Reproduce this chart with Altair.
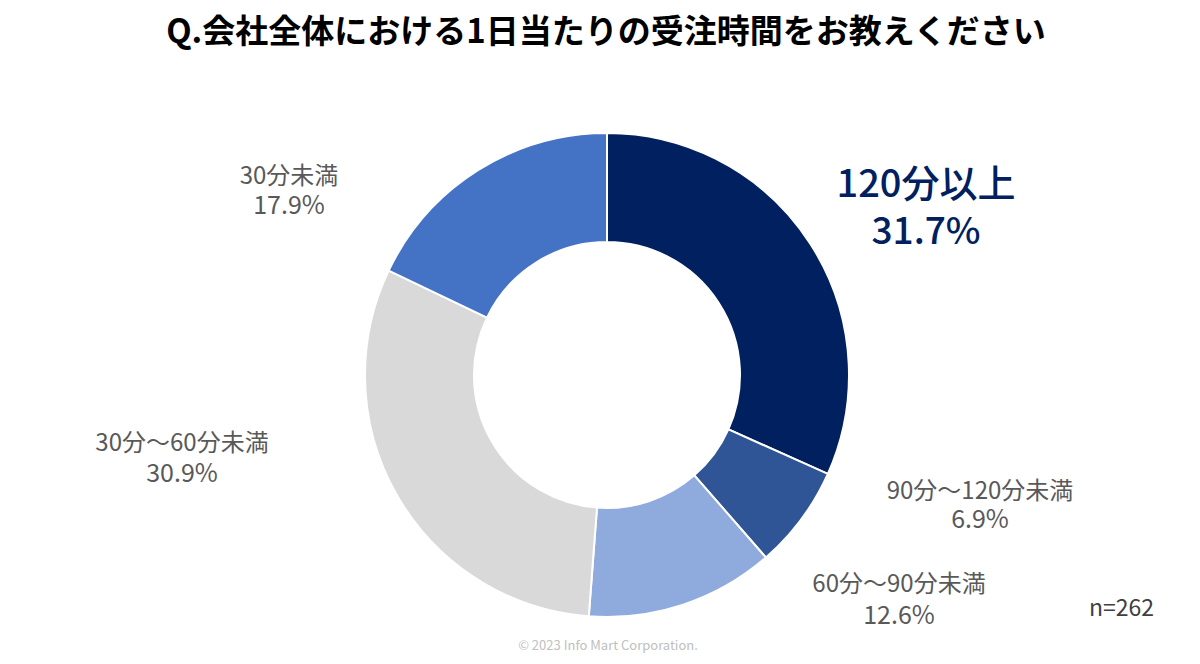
import altair as alt
import pandas as pd

# ---- data ----
categories = ["120分以上", "90分～120分未満", "60分～90分未満", "30分～60分未満", "30分未満"]
shares = [31.7, 6.9, 12.6, 30.9, 17.9]
colors = ["#002060", "#2F5597", "#8FAADC", "#D9D9D9", "#4472C4"]
title_text = "Q.会社全体における1日当たりの受注時間をお教えください"
n_text = "n=262"
footer_text = "© 2023 Info Mart Corporation."

df = pd.DataFrame({"cat": categories, "share": shares, "order": list(range(len(categories)))})

W, H = 1184, 648
CX, CY = 599, 367
FONT = "Noto Sans CJK JP"

donut = alt.Chart(df).mark_arc(
    innerRadius=133, outerRadius=242, stroke="white", strokeWidth=2
).encode(
    theta=alt.Theta("share:Q", stack=True),
    order=alt.Order("order:Q"),
    color=alt.Color("cat:N", scale=alt.Scale(domain=categories, range=colors), legend=None),
    x=alt.value(CX),
    y=alt.value(CY),
)

# label layout (pixel positions of the two lines of each label, chart coords)
label_layout = {
    "120分以上": dict(x=918, y1=178, y2=225, s1=38, s2=37, color="#002060", weight=500),
    "90分～120分未満": dict(x=972, y1=484, y2=512, s1=24, s2=25, color="#595959", weight="normal"),
    "60分～90分未満": dict(x=891, y1=577, y2=608, s1=24, s2=25, color="#595959", weight="normal"),
    "30分～60分未満": dict(x=174, y1=436, y2=466, s1=24, s2=25, color="#595959", weight="normal"),
    "30分未満": dict(x=281, y1=169, y2=198, s1=24, s2=25, color="#595959", weight="normal"),
}

layers = [donut]
for cat, val in zip(categories, shares):
    L = label_layout[cat]
    ldf = pd.DataFrame({"l1": [cat], "l2": [f"{val:.1f}%"]})
    base = alt.Chart(ldf)
    layers.append(base.mark_text(font=FONT, fontSize=L["s1"], color=L["color"], fontWeight=L["weight"],
                                 align="center", baseline="middle").encode(
        text="l1:N", x=alt.value(L["x"]), y=alt.value(L["y1"])))
    layers.append(base.mark_text(font=FONT, fontSize=L["s2"], color=L["color"], fontWeight=L["weight"],
                                 align="center", baseline="middle").encode(
        text="l2:N", x=alt.value(L["x"]), y=alt.value(L["y2"])))

tdf = pd.DataFrame({"t": [title_text], "n": [n_text], "f": [footer_text]})
layers.append(alt.Chart(tdf).mark_text(font=FONT, fontSize=33, fontWeight="bold", color="#000000",
                                       align="center", baseline="middle").encode(
    text="t:N", x=alt.value(598), y=alt.value(25)))
layers.append(alt.Chart(tdf).mark_text(font=FONT, fontSize=23, color="#404040",
                                       align="right", baseline="middle").encode(
    text="n:N", x=alt.value(1146), y=alt.value(601)))
layers.append(alt.Chart(tdf).mark_text(font=FONT, fontSize=13, color="#C0C0C0",
                                       align="center", baseline="middle").encode(
    text="f:N", x=alt.value(600), y=alt.value(638)))

chart = alt.layer(*layers).properties(
    width=W, height=H, autosize=alt.AutoSizeParams(type="none"), padding=0
).configure_view(stroke=None)

chart.save("out.html", embed_options={"renderer": "svg", "actions": False})
